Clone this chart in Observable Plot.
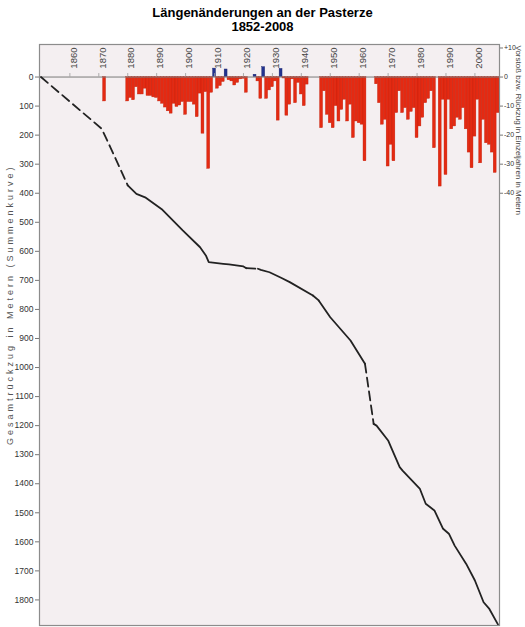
<!DOCTYPE html>
<html>
<head>
<meta charset="utf-8">
<script src="https://cdn.jsdelivr.net/npm/d3@7"></script>
<script src="https://cdn.jsdelivr.net/npm/@observablehq/plot@0.6"></script>
<style>
  html, body { margin: 0; padding: 0; background: #fff; }
  #title { font-family: "Liberation Sans", Arial, sans-serif; font-weight: bold; font-size: 13px;
           line-height: 14px; text-align: center; padding-top: 6px; color: #000; width: 525px; }
</style>
</head>
<body>
<div id="title">Längenänderungen an der Pasterze<br>1852-2008</div>
<div id="chart"></div>
<script>
// Annual length change (m) for individual years (positive = advance)
const barYears = [1872,
  1880,1881,1882,1883,1884,1885,1886,1887,1888,1889,
  1890,1891,1892,1893,1894,1895,1896,1897,1898,1899,
  1900,1901,1902,1903,1904,1905,1906,1907,1908,1909,
  1910,1911,1912,1913,1914,1915,1916,1917,1918,1919,
  1920,1921,1924,1925,1926,1927,1928,1929,
  1930,1931,1932,1933,1934,1935,1936,1937,1938,1939,
  1940,1941,1942,
  1947,1948,1949,1950,1951,1952,1953,1954,1955,1956,1957,1958,1959,
  1960,1961,1962,
  1966,1967,1968,1969,1970,1971,1972,1973,1974,1975,1976,1977,1978,1979,
  1980,1981,1982,1983,1984,1985,1986,1988,1989,
  1990,1991,1992,1993,1994,1995,1996,1997,1998,1999,
  2000,2001,2002,2003,2004,2005,2006,2007,2008];
const barValues = [-8.4,
  -8.4,-7.2,-8,-3.5,-6,-6,-4,-6.5,-6.5,-7,
  -7.2,-8.4,-9.2,-10.5,-11.8,-12.6,-9.2,-10.3,-9.8,-8.6,
  -13,-8.6,-8.6,-9.5,-13.8,-5.7,-19.5,-5.2,-31.6,-5.4,
  2.9,-4,-3.1,-1.7,2.6,-1.1,-1.5,-2.9,-2,-0.8,
  -0.6,-5.4,0.8,-1.5,-7.5,3.4,-7.5,-4.6,
  -3.5,-1.5,-15,2.8,-0.5,-13.3,-9.5,-0.8,-9,-2,
  -6,-10,-2.6,
  -17.6,-4.9,-13,-15.9,-17.6,-10,-15.3,-11.3,-7.8,-15.3,-9.5,-21,-15.3,
  -15.9,-16.4,-29,
  -2.5,-9,-16.4,-14.7,-30.8,-23.3,-29,-12.4,-4.9,-12.4,-10.7,-14.7,-12,-10.7,
  -21,-17,-14,-9,-7.5,-4.9,-24.5,-37.7,-7.8,
  -33.7,-7.8,-18,-17,-14,-14.7,-10.7,-18,-26,-31.4,
  -20.5,-7.8,-29.7,-14.7,-22.8,-23.3,-26,-33,-12.4];

// Cumulative retreat (m) since 1852
const curveYears  = [1850,1871,1874,1880,1883,1886,1892,1899,1905,1907,1908,1913,1915,1920,1921,1925,1926,1929,1933,1936,1944,1946,1950,1957,1962,1965,1966,1970,1971,1974,1975,1981,1983,1986,1989,1991,1993,1997,2000,2003,2005,2008];
const curveValues = [0,178,242,373,402,414,457,528,586,614,637,643,645,652,658,660,664,672,691,706,752,769,827,907,987,1194,1200,1251,1274,1343,1355,1418,1469,1492,1555,1572,1613,1676,1733,1808,1831,1885];
// Periods without annual measurements (drawn dashed)
const dashedSpans = [[1850,1880],[1921,1925],[1944,1946],[1962,1965]];

const decadeLabels = [1860,1870,1880,1890,1900,1910,1920,1930,1940,1950,1960,1970,1980,1990,2000];
const leftTicks = d3.range(0, 1900, 100);
const rightTicks = [10, 0, -10, -20, -30, -40];

const bars = barYears.map((y, i) => ({year: y, value: barValues[i]}));
const pts = curveYears.map((y, i) => ({year: y, value: curveValues[i]}));

// split curve into solid / dashed runs
const rows = [];
let seg = -1, prev = null;
for (let i = 0; i < pts.length - 1; i++) {
  const a = pts[i], b = pts[i + 1];
  const dashed = dashedSpans.some(([s, e]) => a.year >= s && b.year <= e);
  if (dashed !== prev) { seg++; rows.push({...a, seg, dashed}); prev = dashed; }
  rows.push({...b, seg, dashed});
}

const RED = "#e42a12", BLUE = "#22328f";
const scaleFactor = 10; // right axis metres -> left axis units
const LEFT_LABEL = "Gesamtrückzug in Metern (Summenkurve)";

const chart = Plot.plot({
  width: 525,
  height: 593,
  marginTop: 10,
  marginBottom: 2,
  marginLeft: 39,
  marginRight: 26,
  style: {fontFamily: "'Liberation Sans', Arial, sans-serif", background: "#fff", color: "#333", overflow: "visible"},
  x: {domain: [1849.5, 2008.5], axis: null},
  y: {domain: [-112, 1888], reverse: true, axis: null},
  marks: [
    Plot.frame({fill: "#f4eff1"}),
    Plot.rect(bars, {
      x1: d => d.year - 0.5, x2: d => d.year + 0.5,
      y1: 0, y2: d => -d.value * scaleFactor,
      fill: d => d.value > 0 ? BLUE : RED,
      stroke: d => d.value > 0 ? "#18226a" : "#c21f0b",
      strokeWidth: 0.4
    }),
    Plot.ruleY([0], {stroke: "#7a7a7a", strokeWidth: 1}),
    Plot.ruleX(decadeLabels, {x: d => d, y1: 0, y2: -12, stroke: "#999", strokeWidth: 0.8}),
    Plot.text(decadeLabels, {
      x: d => d, frameAnchor: "top", text: d => String(d),
      rotate: -90, textAnchor: "end", dy: 3, fontSize: 9.5, fill: "#444"
    }),
    Plot.line(rows.filter(d => !d.dashed), {x: "year", y: "value", z: "seg", stroke: "#222", strokeWidth: 1.8}),
    Plot.line(rows.filter(d => d.dashed), {x: "year", y: "value", z: "seg", stroke: "#222", strokeWidth: 1.8, strokeDasharray: "9,5"}),
    Plot.frame({stroke: "#8c8c8c", strokeWidth: 1.2}),
    Plot.axisY({anchor: "left", ticks: leftTicks, tickSize: 4, tickPadding: 2, fontSize: 8.5, label: null, stroke: "#777",
      tickFormat: d => String(d)}),
    Plot.axisY({anchor: "right", ticks: rightTicks.map(v => -v * scaleFactor), tickSize: 3, tickPadding: 1.5, fontSize: 7, label: null, stroke: "#777",
      tickFormat: d => { const v = -d / scaleFactor; return v > 0 ? "+" + v : v === 0 ? "0" : "-" + (-v); }}),
    Plot.text([LEFT_LABEL], {
      frameAnchor: "left", dx: -29, dy: 110, rotate: -90, textAnchor: "start", fontSize: 9, fill: "#555"
    }),
    Plot.text(["Vorstoß bzw. Rückzug in Einzeljahren in Metern"], {
      frameAnchor: "top-right", dx: 22, dy: 1, rotate: 90, textAnchor: "start", fontSize: 8, fill: "#444"
    })
  ]
});
d3.select(chart).selectAll("text").filter(function() { return this.textContent === LEFT_LABEL; })
  .style("letter-spacing", "3px");
document.getElementById("chart").appendChild(chart);
</script>
</body>
</html>
